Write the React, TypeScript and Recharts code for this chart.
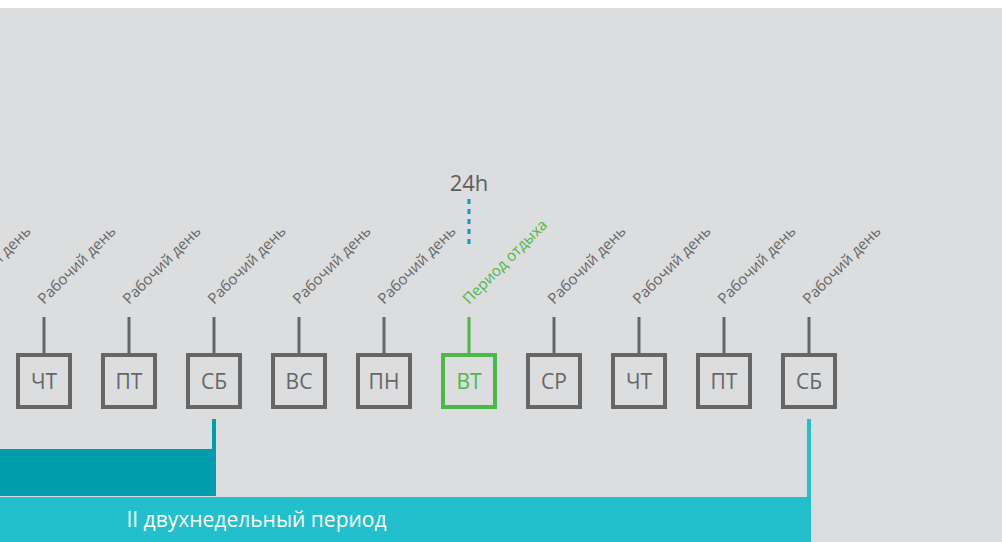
import { ComposedChart, XAxis, YAxis, Scatter, ReferenceArea, ReferenceLine } from 'recharts'

// days on the timeline (index 0 = first fully visible day)
const dayIndex = [-1, 0, 1, 2, 3, 4, 5, 6, 7, 8, 9]
const dayNames = ['СР', 'ЧТ', 'ПТ', 'СБ', 'ВС', 'ПН', 'ВТ', 'СР', 'ЧТ', 'ПТ', 'СБ']
const dayNotes = [
  'Рабочий день', 'Рабочий день', 'Рабочий день', 'Рабочий день', 'Рабочий день', 'Рабочий день',
  'Период отдыха', 'Рабочий день', 'Рабочий день', 'Рабочий день', 'Рабочий день',
]
const restHours = [0, 0, 0, 0, 0, 0, 24, 0, 0, 0, 0]

// two-week periods (start / end day index)
const periodNames = ['I двухнедельный период', 'II двухнедельный период']
const periodStart = [-11, -4]
const periodEnd = [2, 9]

const W = 1002
const H = 534
const X_MIN = -44 / 85
const X_MAX = X_MIN + W / 85

// vertical levels (y axis runs top -> bottom)
const ROW = 373
const LINE_TOP = 411
const BAR_LEVELS = [[441, 488], [489, 534]]

const GREY = '#666666'
const GREEN = '#4cb848'
const TEAL = ['#019dac', '#22bfcd']
const FONT = '"Open Sans", "Noto Sans", sans-serif'

const data = dayIndex.map((x, i) => ({
  x,
  y: ROW,
  day: dayNames[i],
  note: dayNotes[i],
  rest: restHours[i],
}))

function DayBox(props: any) {
  const { cx, cy, payload } = props
  const color = payload.rest ? GREEN : GREY
  return (
    <g>
      <line x1={cx} x2={cx} y1={cy - 64} y2={cy - 28} stroke={color} strokeWidth={3} />
      <rect x={cx - 26} y={cy - 26} width={52} height={52} fill="none" stroke={color} strokeWidth={4} />
      <text x={cx} y={cy + 7.5} textAnchor="middle" fontSize={21} fill={color} fontFamily={FONT}>
        {payload.day}
      </text>
      <text
        x={cx}
        y={cy - 76}
        transform={`rotate(-45 ${cx} ${cy - 76})`}
        fontSize={15}
        fill={color}
        fontFamily={FONT}
      >
        {payload.note}
      </text>
      {payload.rest ? (
        <g>
          <line x1={cx} x2={cx} y1={cy - 182} y2={cy - 134} stroke="#0a9fb0" strokeWidth={3} strokeDasharray="5 5" />
          <text x={cx} y={cy - 190} textAnchor="middle" fontSize={22} fill="#5d5e60" fontFamily={FONT}>
            {`${payload.rest}h`}
          </text>
        </g>
      ) : null}
    </g>
  )
}

export default function App() {
  return (
    <div style={{ position: 'absolute', left: 0, top: 8, width: W, height: H, overflow: 'hidden', background: '#dcdddf' }}>
      <ComposedChart width={W} height={H} data={data} margin={{ top: 0, right: 0, bottom: 0, left: 0 }}>
        <XAxis type="number" dataKey="x" domain={[X_MIN, X_MAX]} allowDataOverflow hide />
        <YAxis type="number" dataKey="y" domain={[0, H]} reversed allowDataOverflow hide />
        {periodNames.map((name, i) => (
          <ReferenceArea
            key={name}
            x1={periodStart[i]}
            x2={periodEnd[i]}
            y1={BAR_LEVELS[i][0]}
            y2={BAR_LEVELS[i][1]}
            ifOverflow="visible"
            fill={TEAL[i]}
            fillOpacity={1}
            stroke="none"
            label={{ value: name, position: 'center', fill: '#ffffff', fontSize: 21, fontFamily: FONT }}
          />
        ))}
        {periodNames.map((name, i) => (
          <ReferenceLine
            key={`end-${name}`}
            segment={[{ x: periodEnd[i], y: LINE_TOP }, { x: periodEnd[i], y: BAR_LEVELS[i][1] }]}
            stroke={TEAL[i]}
            strokeWidth={4}
            ifOverflow="visible"
          />
        ))}
        <Scatter dataKey="y" isAnimationActive={false} shape={DayBox} />
      </ComposedChart>
    </div>
  )
}
